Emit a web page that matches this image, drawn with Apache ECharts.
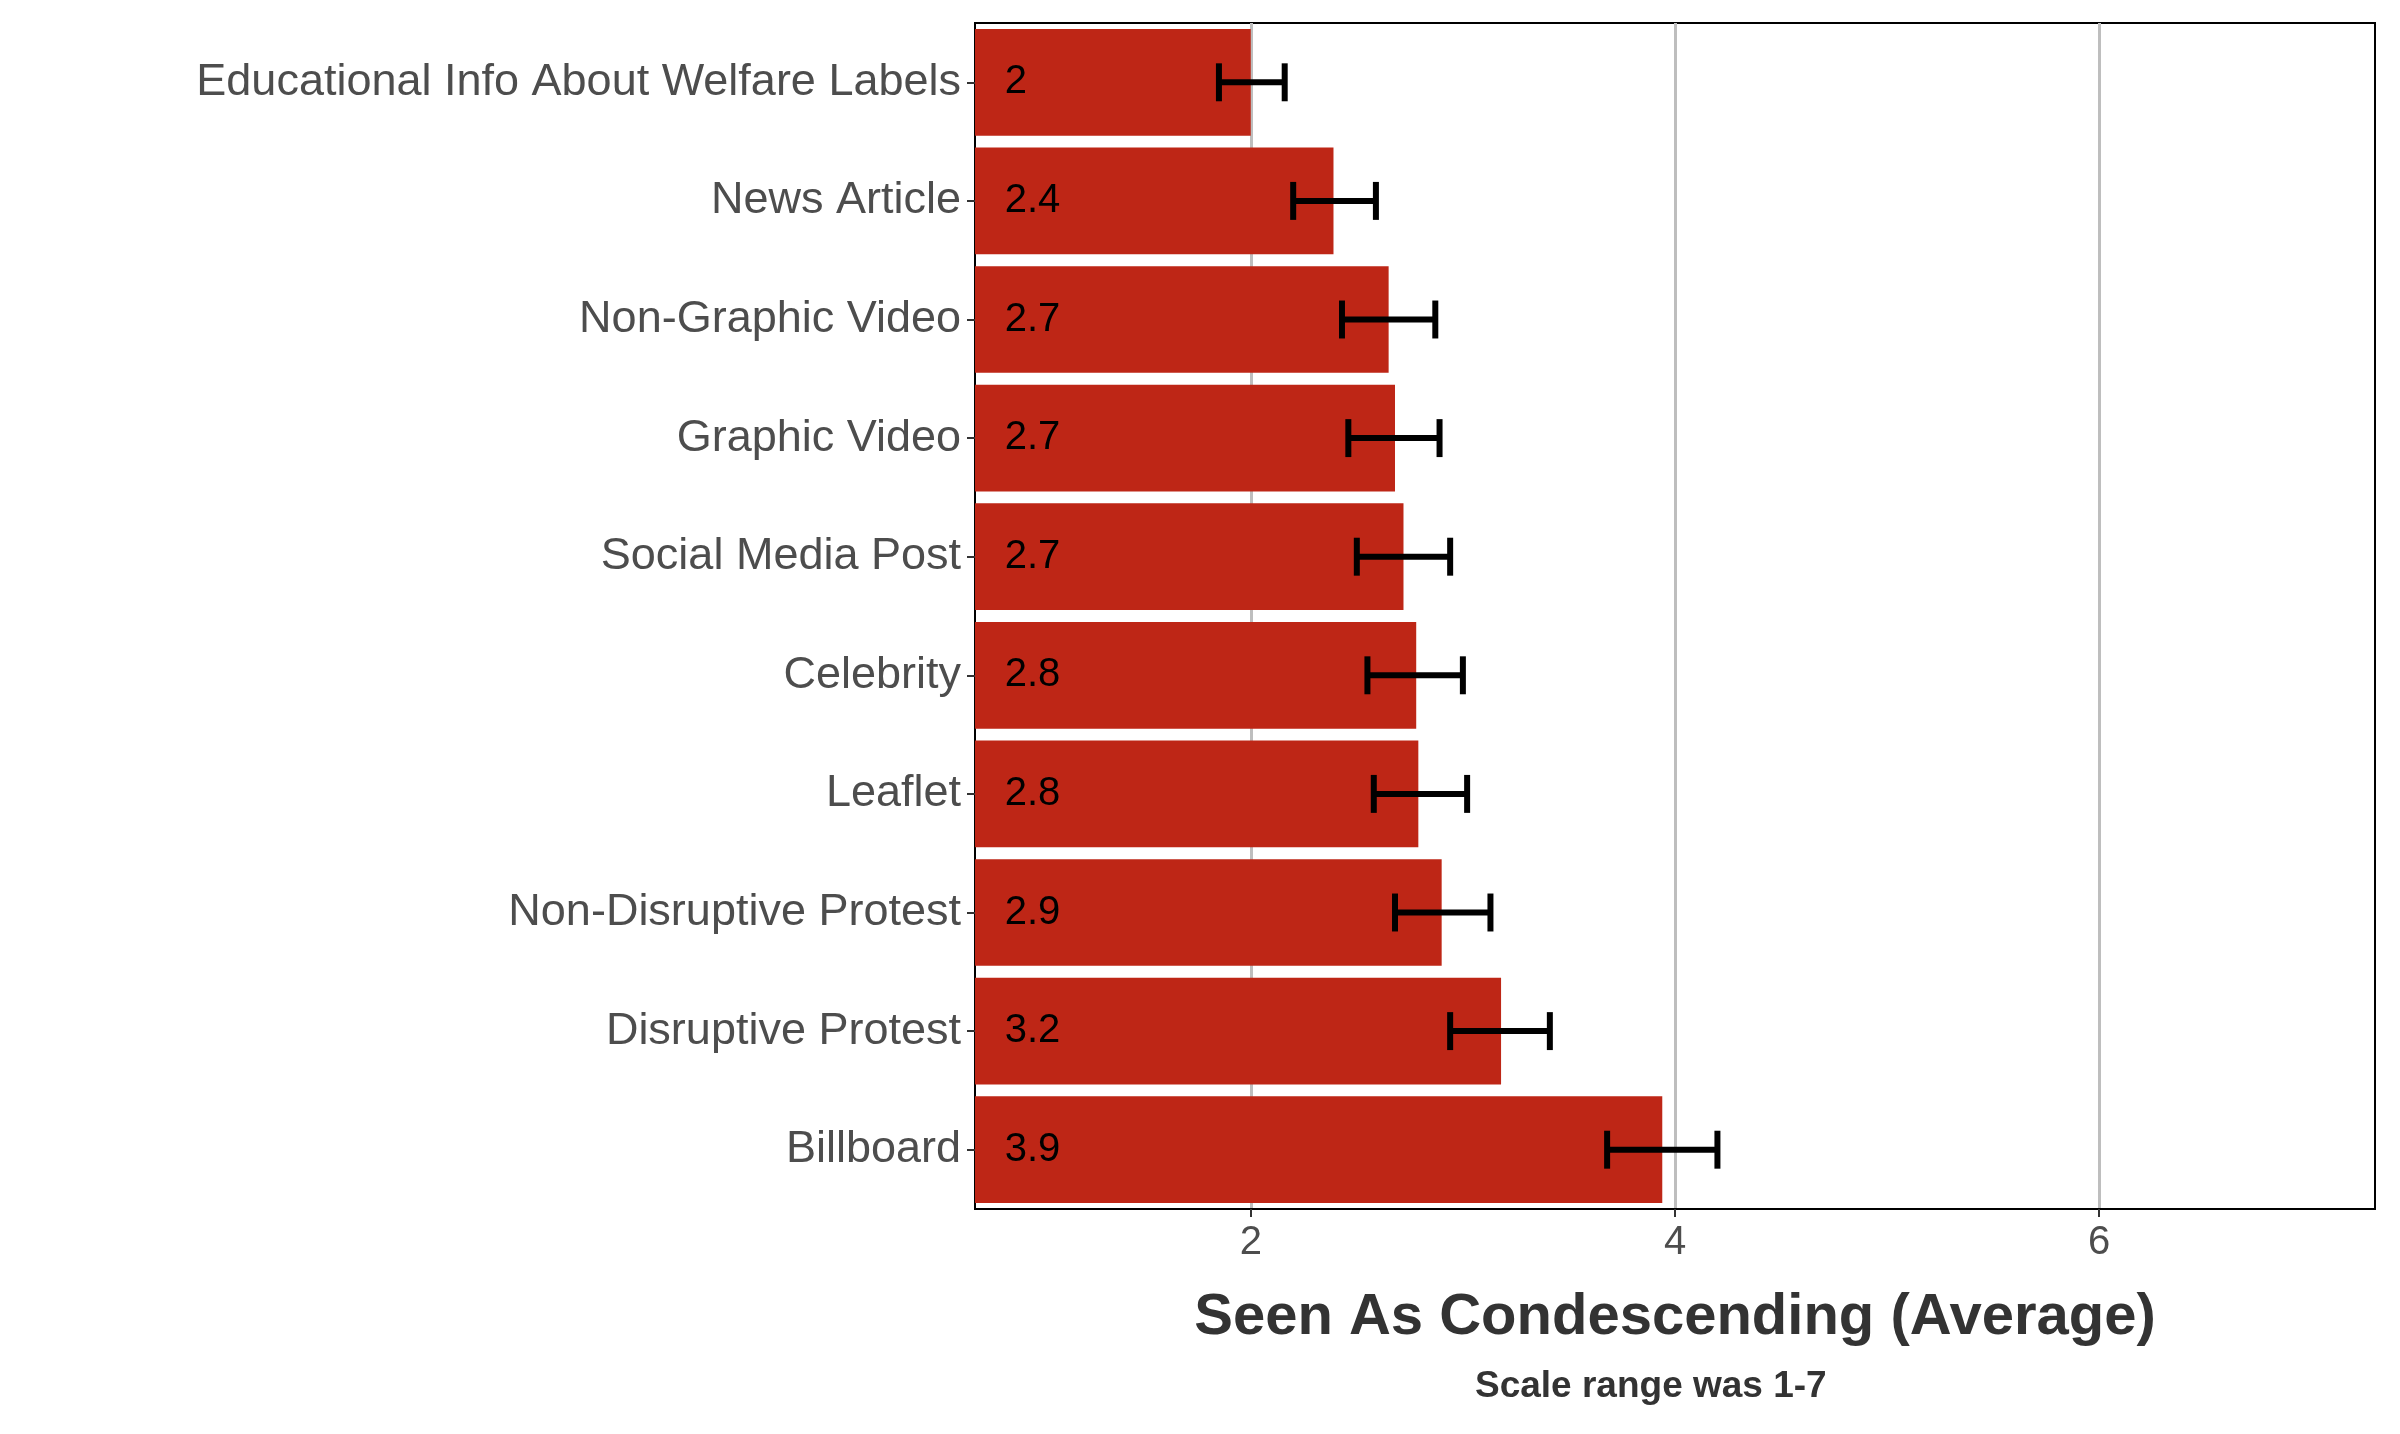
<!DOCTYPE html>
<html>
<head>
<meta charset="utf-8">
<script src="https://cdn.jsdelivr.net/npm/echarts@6/dist/echarts.min.js"></script>
<style>html,body{margin:0;padding:0;background:#fff}#chart{width:2400px;height:1434px}</style>
</head>
<body>
<div id="chart"></div>
<script>
var categories = ['Educational Info About Welfare Labels', 'News Article', 'Non-Graphic Video', 'Graphic Video', 'Social Media Post', 'Celebrity', 'Leaflet', 'Non-Disruptive Protest', 'Disruptive Protest', 'Billboard'];
var means = [2.0, 2.39, 2.65, 2.68, 2.72, 2.78, 2.79, 2.90, 3.18, 3.94];
var lower = [1.85, 2.20, 2.43, 2.46, 2.50, 2.55, 2.58, 2.68, 2.94, 3.68];
var upper = [2.16, 2.59, 2.87, 2.89, 2.94, 3.00, 3.02, 3.13, 3.41, 4.20];
var labels = ['2', '2.4', '2.7', '2.7', '2.7', '2.8', '2.8', '2.9', '3.2', '3.9'];
var xTicks = [2, 4, 6];

var myChart = echarts.init(document.getElementById('chart'));
var option = {
    animation: false,
    grid: {
        left: 975, right: 25, top: 23, bottom: 225,
        show: true, borderColor: '#000', borderWidth: 2, backgroundColor: '#fff'
    },
    xAxis: {
        type: 'value',
        min: 0.7,
        max: 7.3,
        name: 'Seen As Condescending (Average)',
        nameLocation: 'middle',
        nameGap: 80,
        nameTextStyle: {fontSize: 58, fontWeight: 'bold', color: '#333', fontFamily: 'Liberation Sans'},
        axisLine: {show: true, lineStyle: {color: '#000', width: 2}},
        axisTick: {show: true, length: 8, lineStyle: {color: '#333', width: 2}, customValues: xTicks},
        axisLabel: {fontSize: 40, color: '#4d4d4d', margin: 14, fontFamily: 'Liberation Sans', customValues: xTicks},
        splitLine: {show: true, lineStyle: {color: '#bebebe', width: 3}}
    },
    yAxis: {
        type: 'category',
        data: categories,
        inverse: true,
        axisLine: {show: true, lineStyle: {color: '#000', width: 2}},
        axisTick: {show: true, length: 8, alignWithLabel: true, lineStyle: {color: '#333', width: 2}},
        axisLabel: {fontSize: 45, color: '#4d4d4d', margin: 14, fontFamily: 'Liberation Sans'}
    },
    graphic: [{
        type: 'text',
        left: 1475,
        top: 1368,
        style: {text: 'Scale range was 1-7', font: 'bold 37px "Liberation Sans"', fill: '#333'}
    }],
    series: [
        {
            type: 'bar',
            data: means,
            barCategoryGap: '10%',
            itemStyle: {color: '#be2616'}
        },
        {
            type: 'custom',
            data: means.map(function (m, i) { return [lower[i], upper[i], i]; }),
            encode: {x: [0, 1], y: 2},
            z: 5,
            renderItem: function (params, api) {
                var a = api.coord([api.value(0), api.value(2)]);
                var b = api.coord([api.value(1), api.value(2)]);
                var h = api.size([0, 1])[1] * 0.16;
                var st = {stroke: '#000', lineWidth: 6};
                return {type: 'group', children: [
                    {type: 'line', shape: {x1: a[0], y1: a[1], x2: b[0], y2: b[1]}, style: st},
                    {type: 'line', shape: {x1: a[0], y1: a[1] - h, x2: a[0], y2: a[1] + h}, style: st},
                    {type: 'line', shape: {x1: b[0], y1: b[1] - h, x2: b[0], y2: b[1] + h}, style: st}
                ]};
            }
        },
        {
            type: 'custom',
            data: labels.map(function (t, i) { return [0.84, i, t]; }),
            encode: {x: 0, y: 1},
            z: 6,
            renderItem: function (params, api) {
                var p = api.coord([api.value(0), api.value(1)]);
                return {type: 'text', x: p[0], y: p[1], style: {
                    text: labels[params.dataIndex], font: '40px "Liberation Sans"', fill: '#000',
                    verticalAlign: 'middle', align: 'left'
                }};
            }
        }
    ]
};
myChart.setOption(option);
</script>
</body>
</html>
